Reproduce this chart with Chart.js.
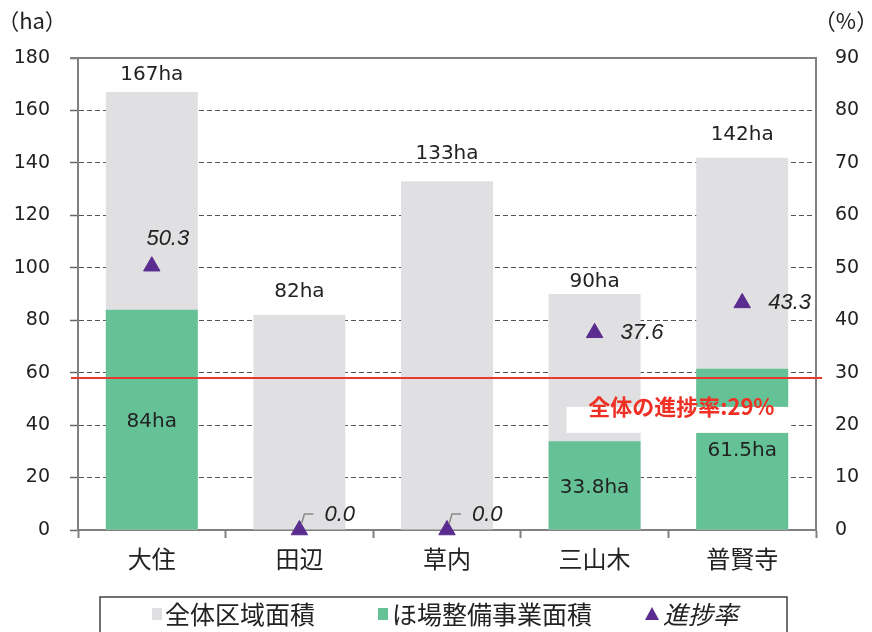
<!DOCTYPE html>
<html><head><meta charset="utf-8">
<script src="https://cdn.jsdelivr.net/npm/chart.js@4/dist/chart.umd.min.js"></script>
<style>html,body{margin:0;padding:0;background:#fff}#wrap{width:872px;height:632px}</style>
</head><body><div id="wrap"><canvas id="c" width="872" height="632"></canvas></div>
<script>
// ---- data ----
const categories = ['大住', '田辺', '草内', '三山木', '普賢寺'];
const totalArea = [167, 82, 133, 90, 142];          // 全体区域面積 (ha)
const projectArea = [84, 0, 0, 33.8, 61.5];        // ほ場整備事業面積 (ha)
const progressRate = [50.3, 0, 0, 37.6, 43.3];     // 進捗率 (%)
const overallRate = 29;                            // 全体の進捗率 (%)
const seriesNames = ['全体区域面積', 'ほ場整備事業面積', '進捗率'];
const leftAxis = {min: 0, max: 180, step: 20};
const rightAxis = {min: 0, max: 90, step: 10};
const leftUnit = '（ha）';
const rightUnit = '（%）';
const overallLabel = '全体の進捗率:' + overallRate + '%';

// ---- styles ----
const FONT_NUM = "'DejaVu Sans', 'Noto Sans CJK JP', sans-serif";
const FONT_JP = "'Noto Sans CJK JP', sans-serif";
const FONT_IT = "'Liberation Sans', 'Noto Sans CJK JP', sans-serif";
const GREY = '#e0e0e2', GREEN = '#65c296', PURPLE = '#5b2c8f', RED = '#e8382f', AXIS = '#808080';
const totalLabelOffsets = [17, 23, 27, 12, 23];
const ratePlacement = ['above', 'leader', 'leader', 'right', 'right'];

const annotate = {
  id: 'annotate',
  afterDatasetsDraw(chart) {
    const {ctx, chartArea: ca, scales: {x, y1}} = chart;
    const mTotal = chart.getDatasetMeta(0), mProj = chart.getDatasetMeta(1), mRate = chart.getDatasetMeta(2);
    ctx.save();
    // top frame
    ctx.strokeStyle = AXIS; ctx.lineWidth = 2;
    ctx.beginPath(); ctx.moveTo(ca.left - 8, ca.top); ctx.lineTo(ca.right + 1, ca.top); ctx.stroke();
    // overall rate line
    const ry = y1.getPixelForValue(overallRate);
    ctx.strokeStyle = RED; ctx.lineWidth = 2;
    ctx.beginPath(); ctx.moveTo(ca.left - 7, ry); ctx.lineTo(ca.right + 6, ry); ctx.stroke();
    // white label box
    const bx0 = x.getPixelForValue(3) - 28, bx1 = x.getPixelForValue(4) + 49;
    ctx.fillStyle = '#fff';
    ctx.fillRect(bx0, ry + 29, bx1 - bx0, 26);
    // bar labels
    ctx.fillStyle = '#222'; ctx.font = '20px ' + FONT_NUM;
    ctx.textAlign = 'center'; ctx.textBaseline = 'middle';
    mTotal.data.forEach((el, i) => ctx.fillText(totalArea[i] + 'ha', el.x, el.y - totalLabelOffsets[i]));
    mProj.data.forEach((el, i) => {
      if (projectArea[i] > 0) ctx.fillText(projectArea[i] + 'ha', el.x, (el.y + el.base) / 2 + 2);
    });
    // rate labels
    ctx.font = 'italic 22px ' + FONT_IT;
    mRate.data.forEach((el, i) => {
      const t = progressRate[i].toFixed(1);
      const p = ratePlacement[i];
      ctx.fillStyle = '#222';
      if (p === 'above') { ctx.textAlign = 'center'; ctx.fillText(t, el.x + 16, el.y - 27); }
      else if (p === 'right') { ctx.textAlign = 'left'; ctx.fillText(t, el.x + 26, el.y); }
      else {
        ctx.strokeStyle = '#8a8a8a'; ctx.lineWidth = 1.5;
        ctx.beginPath(); ctx.moveTo(el.x + 2, el.y - 6); ctx.lineTo(el.x + 5, el.y - 16); ctx.lineTo(el.x + 14, el.y - 16); ctx.stroke();
        ctx.textAlign = 'left'; ctx.fillText(t, el.x + 25, el.y - 15);
      }
    });
    // overall label
    ctx.font = 'bold 22px ' + FONT_JP; ctx.fillStyle = '#ee3124'; ctx.textAlign = 'center';
    ctx.fillText(overallLabel, (x.getPixelForValue(3) + x.getPixelForValue(4)) / 2 + 13, ry + 29);
    ctx.restore();
  },
  afterDraw(chart) {
    const {ctx} = chart;
    ctx.save();
    // unit titles
    ctx.fillStyle = '#222'; ctx.font = '22px ' + FONT_JP;
    ctx.textAlign = 'center'; ctx.textBaseline = 'middle';
    ctx.fillText(leftUnit, 32, 21);
    ctx.fillText(rightUnit, 846, 21);
    // legend
    ctx.strokeStyle = '#404040'; ctx.lineWidth = 1.5;
    ctx.strokeRect(100, 597, 687, 60);
    const ly = 614;
    ctx.fillStyle = GREY; ctx.fillRect(152, ly - 6, 10, 12);
    ctx.fillStyle = GREEN; ctx.fillRect(378, ly - 6, 10, 12);
    ctx.fillStyle = PURPLE;
    ctx.beginPath(); ctx.moveTo(652, ly - 7); ctx.lineTo(659, ly + 6); ctx.lineTo(645, ly + 6); ctx.closePath(); ctx.fill();
    ctx.fillStyle = '#222'; ctx.textAlign = 'left';
    ctx.font = '25px ' + FONT_JP;
    ctx.fillText(seriesNames[0], 165, ly);
    ctx.fillText(seriesNames[1], 392, ly);
    ctx.font = 'italic 25px ' + FONT_JP;
    ctx.fillText(seriesNames[2], 663, ly);
    ctx.restore();
  }
};

new Chart(document.getElementById('c'), {
  data: {
    labels: categories,
    datasets: [
      {type: 'bar', label: seriesNames[0], data: totalArea, backgroundColor: GREY, yAxisID: 'y',
       grouped: false, order: 3, barPercentage: 0.623, categoryPercentage: 1},
      {type: 'bar', label: seriesNames[1], data: projectArea, backgroundColor: GREEN, yAxisID: 'y',
       grouped: false, order: 2, barPercentage: 0.623, categoryPercentage: 1},
      {type: 'line', label: seriesNames[2], data: progressRate, yAxisID: 'y1', showLine: false,
       pointStyle: 'triangle', pointRadius: 9.5, pointHoverRadius: 9.5, pointBorderWidth: 1,
       backgroundColor: PURPLE, borderColor: PURPLE, order: 1, clip: false}
    ]
  },
  options: {
    responsive: false, animation: false, devicePixelRatio: 1,
    layout: {padding: {top: 58, left: 0, right: 0, bottom: 0}},
    plugins: {legend: {display: false}, tooltip: {enabled: false}},
    scales: {
      x: {
        type: 'category', offset: true,
        grid: {display: true, drawOnChartArea: false, drawTicks: true, tickLength: 8, tickColor: AXIS, tickWidth: 2, offset: true},
        border: {display: true, color: AXIS, width: 2},
        ticks: {font: {family: FONT_JP, size: 24}, color: '#222', padding: 6},
        afterFit(s) { s.height = 102; }
      },
      y: {
        position: 'left', min: leftAxis.min, max: leftAxis.max,
        ticks: {stepSize: leftAxis.step, font: {family: FONT_NUM, size: 19}, color: '#222', padding: 20},
        grid: {
          color: c => (c.tick && (c.tick.value === leftAxis.max || c.tick.value === leftAxis.min)) ? 'rgba(0,0,0,0)' : '#555',
          lineWidth: 1, tickLength: 8, tickColor: '#666', tickWidth: 1.5
        },
        border: {display: true, color: AXIS, width: 2, dash: [5, 3]},
        afterFit(s) { s.width = 78; }
      },
      y1: {
        position: 'right', min: rightAxis.min, max: rightAxis.max,
        ticks: {stepSize: rightAxis.step, font: {family: FONT_NUM, size: 19}, color: '#222', padding: 19},
        grid: {drawOnChartArea: false, drawTicks: false},
        border: {display: true, color: AXIS, width: 2},
        afterFit(s) { s.width = 56; }
      }
    }
  },
  plugins: [annotate]
});
</script>
</body></html>
